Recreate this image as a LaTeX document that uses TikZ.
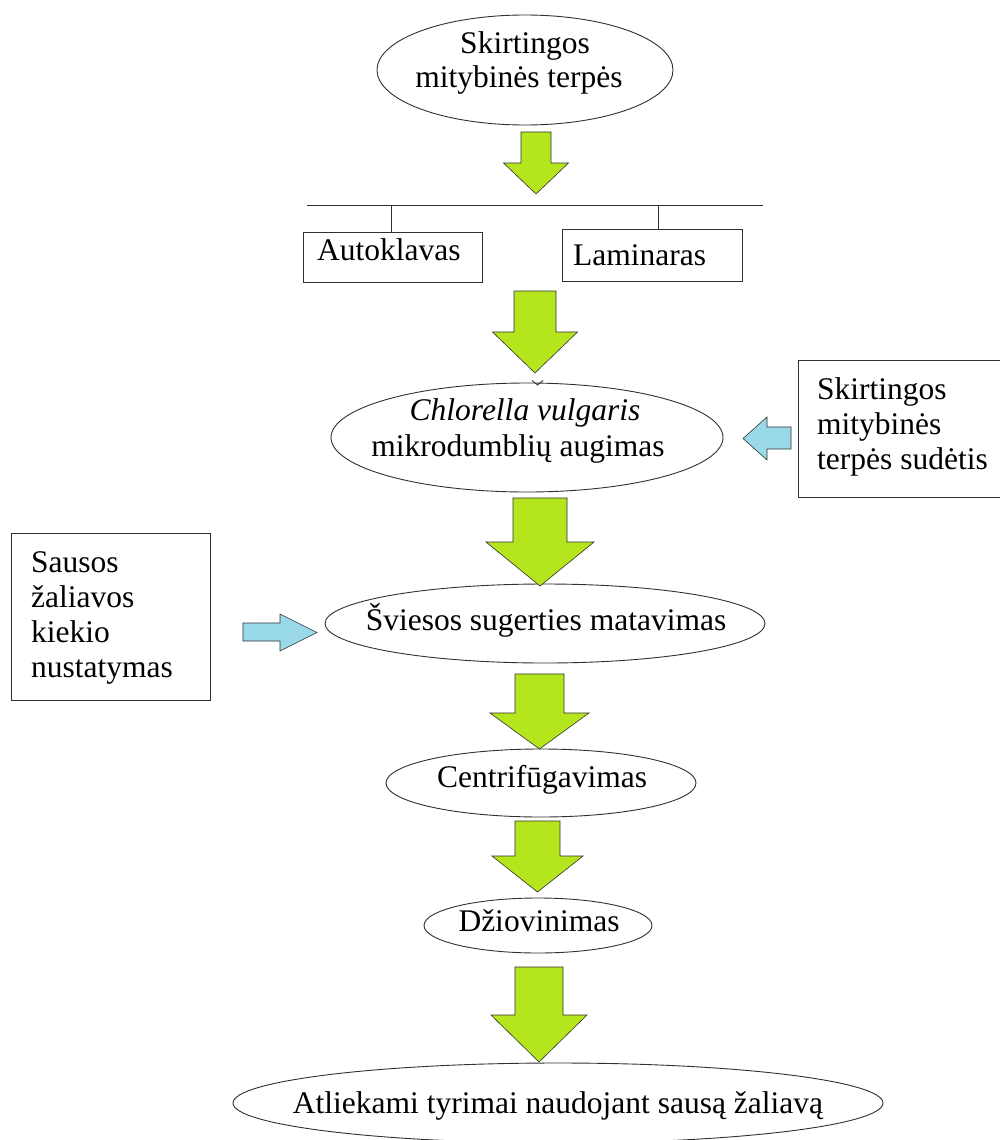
\documentclass[tikz,border=0pt]{standalone}
\usepackage{fontspec}
\setmainfont{Liberation Serif}
\usetikzlibrary{shapes.geometric}
\definecolor{lime}{HTML}{B5E61D}
\definecolor{lblue}{HTML}{99D9EA}
\definecolor{edge}{HTML}{303030}
\tikzset{
  oval/.style={ellipse, draw=edge, line width=0.9pt, inner sep=0pt},
  boxnode/.style={rectangle, draw=edge, line width=1pt, inner sep=0pt},
  txt/.style={inner sep=0pt, font=\fontsize{31.5}{35}\selectfont},
  greenfill/.style={fill=lime, draw=edge, line width=0.6pt, line join=miter},
  bluefill/.style={fill=lblue, draw=edge, line width=0.6pt, line join=miter},
  rule/.style={draw=edge, line width=1pt}
}
% #1 centre x, #2 top y, #3 wing y, #4 tip y, #5 shaft half width, #6 head half width
\newcommand{\garrow}[6]{%
  \path[greenfill] (#1-#5,#2) -- (#1+#5,#2) -- (#1+#5,#3) -- (#1+#6,#3) -- (#1,#4)
     -- (#1-#6,#3) -- (#1-#5,#3) -- cycle;}
\begin{document}
\begin{tikzpicture}[x=1pt,y=-1pt]
\useasboundingbox (0,0) rectangle (999,1140);

% ellipses
\node[oval, minimum width=296pt, minimum height=110pt] (top) at (525,70) {};
\node[oval, minimum width=392pt, minimum height=109pt] (chl) at (527,437.5) {};
\node[oval, minimum width=440pt, minimum height=79pt] (svi) at (545,623.5) {};
\node[oval, minimum width=310pt, minimum height=68pt] (cen) at (541,783) {};
\node[oval, minimum width=228pt, minimum height=55pt] (dzi) at (538,925.5) {};
\node[oval, minimum width=650pt, minimum height=80pt] (atl) at (558,1103) {};

% boxes
\node[boxnode, minimum width=179pt, minimum height=50pt] (auto) at (392.5,257) {};
\node[boxnode, minimum width=180pt, minimum height=52pt] (lam) at (652,255) {};
\node[boxnode, minimum width=204pt, minimum height=137pt] (rbox) at (900,429) {};
\node[boxnode, minimum width=199pt, minimum height=167pt] (lbox) at (110.5,616.5) {};

% texts
\node[txt, anchor=base] (t1a) at (525,53) {Skirtingos};
\node[txt, anchor=base] (t1b) at (519,88) {mitybinės terpės};
\node[txt, anchor=base west] (t2) at (317,260) {Autoklavas};
\node[txt, anchor=base west] (t3) at (573,265) {Laminaras};
\node[txt, anchor=base] (t4a) at (525,420) {\itshape Chlorella vulgaris};
\node[txt, anchor=base] (t4b) at (518,456) {mikrodumblių augimas};
\node[txt, anchor=base west] (t5a) at (817,399) {Skirtingos};
\node[txt, anchor=base west] (t5b) at (817,434) {mitybinės};
\node[txt, anchor=base west] (t5c) at (817,469) {terpės sudėtis};
\node[txt, anchor=base west] (t6a) at (31,572) {Sausos};
\node[txt, anchor=base west] (t6b) at (31,607) {žaliavos};
\node[txt, anchor=base west] (t6c) at (31,642) {kiekio};
\node[txt, anchor=base west] (t6d) at (31,677) {nustatymas};
\node[txt, anchor=base] (t7) at (546,630) {Šviesos sugerties matavimas};
\node[txt, anchor=base] (t8) at (542,787) {Centrifūgavimas};
\node[txt, anchor=base] (t9) at (539,931) {Džiovinimas};
\node[txt, anchor=base] (t10) at (558,1113) {Atliekami tyrimai naudojant sausą žaliavą};

% branching rule
\coordinate (hl) at (307,205);
\coordinate (hr) at (763,205);
\draw[rule] (hl) -- (hr);
\draw[rule] (391,205) -- (auto.north -| 391,0);
\draw[rule] (658,205) -- (lam.north -| 658,0);

% small mark on top of Chlorella ellipse
\draw[edge, line width=0.8pt] (532,380.5) -- (537.5,385) -- (543,380.5);

% green block arrows
\garrow{536}{132}{163}{194}{15}{32.5}
\garrow{535}{291}{332}{373}{21}{42.5}
\garrow{540}{498}{542}{586}{27}{54}
\garrow{539.5}{674}{713}{749}{24.5}{49.5}
\garrow{537.5}{821}{856}{892}{22.5}{45.5}
\garrow{539}{967}{1015}{1062}{24}{48}

% blue block arrows
\path[bluefill] (791,427) -- (767,427) -- (767,417) -- (743,438.5) -- (767,460)
   -- (767,449) -- (791,449) -- cycle;
\path[bluefill] (243,623) -- (280,623) -- (280,614) -- (317,632.5) -- (280,651)
   -- (280,641) -- (243,641) -- cycle;
\end{tikzpicture}
\end{document}
